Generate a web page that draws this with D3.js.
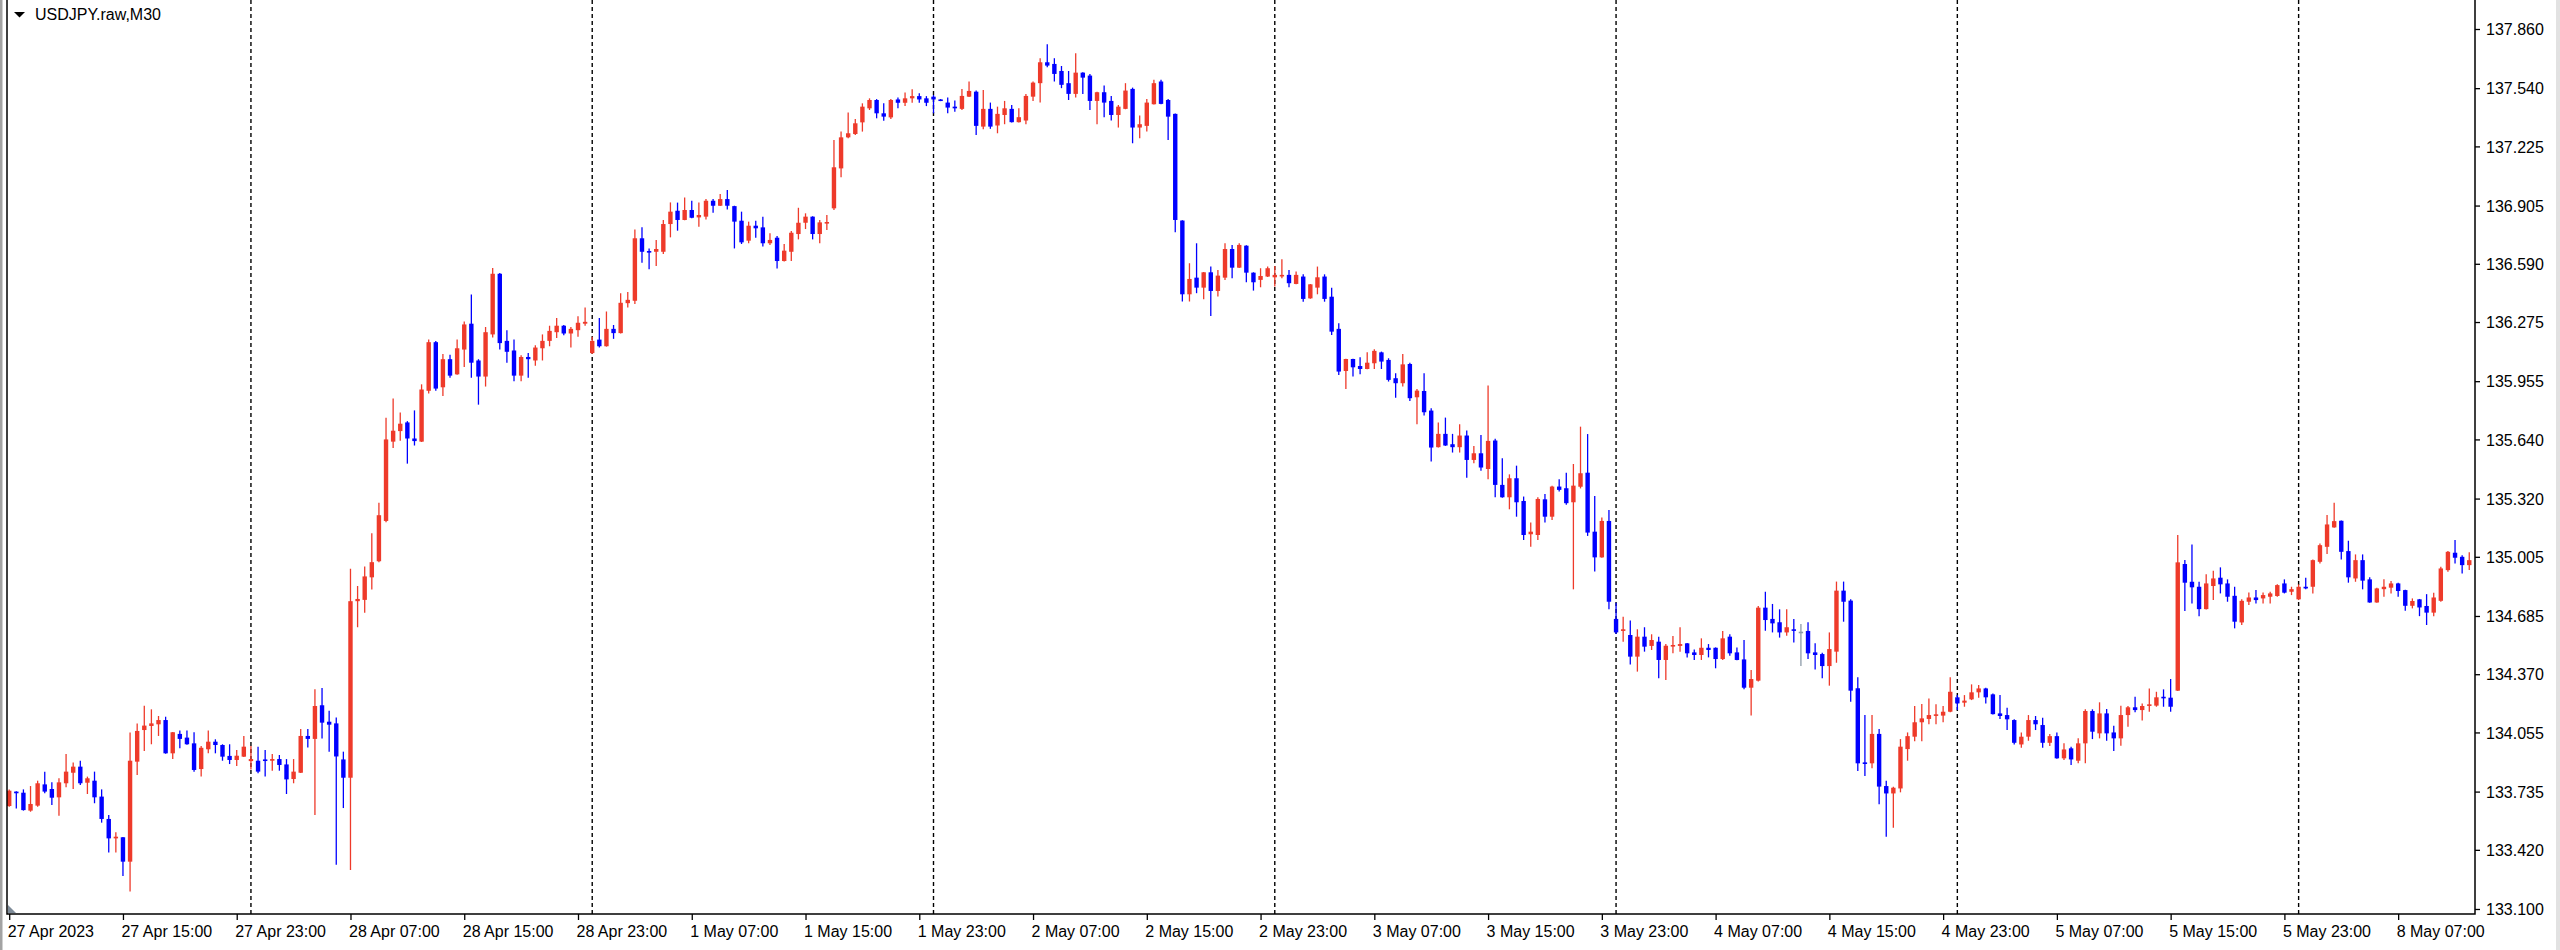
<!DOCTYPE html>
<html>
<head>
<meta charset="utf-8">
<script src="https://cdn.jsdelivr.net/npm/d3@7"></script>
<style>
  html, body { margin: 0; padding: 0; background: #fff; }
  svg { display: block; }
  text { font-family: "Liberation Sans", Arial, sans-serif; }
</style>
</head>
<body>
<svg id="chart" width="2560" height="950"></svg>
<script>
// USDJPY.raw M30 candles, 27 Apr 2023 07:00 -> 8 May 2023 12:00 (one entry per bar)
const openPrices = [
  133.657,133.735,133.729,133.632,133.659,133.774,133.749,133.704,133.780,133.837,
  133.870,133.783,133.794,133.708,133.587,133.482,133.488,133.356,133.897,134.068,
  134.090,134.099,134.122,133.942,134.047,134.027,133.996,133.857,133.964,134.005,
  133.987,133.928,133.906,133.924,133.900,133.902,133.909,133.902,133.911,133.882,
  133.803,133.837,134.036,134.020,134.202,134.113,134.104,133.909,133.810,134.765,
  134.772,134.894,134.981,135.199,135.628,135.685,135.732,135.645,135.628,135.903,
  136.166,135.922,136.074,135.992,136.126,136.266,136.067,135.980,136.208,136.536,
  136.173,136.121,135.985,136.086,136.067,136.133,136.173,136.220,136.255,136.213,
  136.231,136.266,136.107,136.180,136.144,136.238,136.215,136.377,136.390,136.728,
  136.659,136.655,136.655,136.805,136.877,136.827,136.881,136.841,136.845,136.931,
  136.904,136.940,136.902,136.823,136.715,136.796,136.787,136.701,136.731,136.605,
  136.655,136.751,136.812,136.845,136.751,136.812,136.890,137.106,137.274,137.292,
  137.355,137.431,137.476,137.404,137.382,137.479,137.461,137.485,137.497,137.485,
  137.494,137.479,137.462,137.440,137.428,137.494,137.521,137.332,137.428,137.338,
  137.395,137.428,137.356,137.365,137.494,137.567,137.680,137.671,137.633,137.567,
  137.509,137.624,137.608,137.471,137.518,137.471,137.395,137.428,137.536,137.327,
  137.336,137.453,137.576,137.476,137.401,136.824,136.425,136.515,136.461,136.544,
  136.443,136.515,136.670,136.569,136.688,136.542,136.503,136.521,136.517,136.524,
  136.530,136.481,136.521,136.403,136.461,136.521,136.412,136.238,136.010,136.075,
  136.037,136.021,136.052,136.111,136.070,135.971,135.944,136.048,135.868,135.902,
  135.796,135.598,135.670,135.614,135.598,135.661,135.529,135.565,135.480,135.634,
  135.394,135.327,135.430,135.307,135.127,135.123,135.316,135.222,135.385,135.376,
  135.300,135.384,135.460,135.141,135.002,135.199,134.669,134.604,134.582,134.465,
  134.573,134.523,134.546,134.447,134.523,134.523,134.537,134.488,134.474,134.513,
  134.513,134.452,134.573,134.488,134.450,134.297,134.335,134.730,134.669,134.651,
  134.596,134.613,134.600,134.604,134.488,134.479,134.414,134.492,134.822,134.768,
  134.294,133.893,133.888,134.047,133.765,133.725,133.752,133.965,134.032,134.110,
  134.128,134.146,134.146,134.167,134.245,134.216,134.234,134.272,134.293,134.261,
  134.158,134.149,134.122,133.990,134.032,134.122,134.095,133.999,134.035,133.915,
  133.969,133.902,133.996,134.171,134.050,134.158,134.055,134.023,134.149,134.191,
  134.176,134.203,134.200,134.248,134.243,134.281,134.966,134.870,134.843,134.722,
  134.847,134.892,134.861,134.794,134.650,134.762,134.785,134.780,134.789,134.793,
  134.861,134.816,134.775,134.843,134.843,134.978,135.059,135.164,135.200,135.036,
  134.888,134.987,134.883,134.758,134.830,134.838,134.861,134.825,134.740,134.775,
  134.739,134.703,134.767,134.933,135.027,135.005,134.960
];
const highPrices = [
  133.747,133.737,133.747,133.765,133.794,133.843,133.785,133.807,133.938,133.893,
  133.902,133.816,133.843,133.747,133.608,133.515,133.490,134.054,134.104,134.200,
  134.180,134.144,134.140,134.058,134.065,134.065,134.056,133.982,134.065,134.018,
  133.991,133.991,133.960,134.036,133.982,133.978,133.960,133.938,133.933,133.911,
  133.911,134.074,134.074,134.288,134.296,134.172,134.136,133.951,134.941,134.847,
  134.953,135.133,135.298,135.757,135.861,135.786,135.739,135.797,135.938,136.180,
  136.173,136.102,136.098,136.180,136.278,136.424,136.074,136.248,136.567,136.540,
  136.231,136.180,136.095,136.107,136.149,136.208,136.255,136.297,136.259,136.248,
  136.306,136.353,136.196,136.297,136.332,136.259,136.431,136.438,136.776,136.787,
  136.673,136.719,136.827,136.922,136.921,136.949,136.931,136.922,136.940,136.940,
  136.967,136.989,136.904,136.872,136.818,136.823,136.845,136.755,136.740,136.697,
  136.767,136.893,136.863,136.847,136.827,136.854,137.259,137.305,137.409,137.373,
  137.458,137.485,137.481,137.458,137.481,137.490,137.516,137.534,137.512,137.497,
  137.503,137.481,137.489,137.473,137.536,137.576,137.527,137.530,137.462,137.440,
  137.471,137.449,137.431,137.509,137.576,137.702,137.778,137.702,137.660,137.633,
  137.729,137.626,137.617,137.520,137.554,137.498,137.449,137.567,137.543,137.392,
  137.482,137.585,137.585,137.482,137.403,136.826,136.593,136.701,136.546,136.575,
  136.557,136.701,136.692,136.701,136.690,136.544,136.566,136.575,136.578,136.614,
  136.557,136.548,136.533,136.481,136.575,136.533,136.461,136.268,136.077,136.077,
  136.084,136.111,136.128,136.115,136.079,135.998,136.102,136.055,135.913,135.998,
  135.808,135.731,135.758,135.670,135.722,135.688,135.605,135.664,135.931,135.643,
  135.538,135.451,135.498,135.331,135.190,135.327,135.345,135.390,135.424,135.460,
  135.507,135.709,135.669,135.334,135.217,135.258,134.757,134.681,134.660,134.613,
  134.624,134.586,134.573,134.533,134.577,134.624,134.539,134.504,134.564,134.533,
  134.515,134.604,134.586,134.515,134.555,134.393,134.739,134.816,134.750,134.721,
  134.721,134.669,134.642,134.651,134.537,134.486,134.596,134.871,134.871,134.775,
  134.353,134.149,134.149,134.074,133.794,133.761,134.019,134.055,134.198,134.209,
  134.239,134.207,134.198,134.353,134.257,134.257,134.315,134.311,134.297,134.266,
  134.257,134.189,134.126,134.055,134.149,134.144,134.135,134.046,134.055,133.996,
  133.978,134.023,134.180,134.180,134.218,134.182,134.091,134.200,134.198,134.248,
  134.212,134.293,134.275,134.288,134.344,135.123,134.988,135.072,134.870,134.910,
  134.930,134.948,134.883,134.843,134.776,134.812,134.825,134.812,134.816,134.856,
  134.883,134.843,134.856,134.892,134.991,135.077,135.231,135.297,135.202,135.092,
  135.018,135.018,134.894,134.838,134.883,134.874,134.865,134.827,134.780,134.777,
  134.803,134.811,134.951,135.036,135.096,135.014,135.029
];
const lowPrices = [
  133.653,133.644,133.632,133.626,133.653,133.726,133.663,133.605,133.758,133.749,
  133.771,133.722,133.672,133.567,133.405,133.405,133.278,133.194,133.825,133.955,
  133.991,134.036,133.940,133.911,133.969,133.989,133.843,133.816,133.942,133.942,
  133.902,133.884,133.873,133.922,133.855,133.834,133.816,133.848,133.848,133.722,
  133.780,133.835,133.974,133.608,134.022,133.951,133.339,133.646,133.311,134.624,
  134.702,134.828,134.976,135.192,135.593,135.633,135.509,135.607,135.626,135.889,
  135.903,135.875,135.973,135.990,136.032,135.973,135.828,135.926,136.191,136.126,
  136.055,135.954,135.954,135.973,136.039,136.067,136.144,136.189,136.203,136.137,
  136.196,136.255,136.102,136.137,136.142,136.184,136.213,136.353,136.372,136.596,
  136.560,136.578,136.643,136.733,136.769,136.825,136.836,136.791,136.830,136.866,
  136.902,136.884,136.673,136.697,136.701,136.731,136.683,136.692,136.565,136.603,
  136.605,136.722,136.778,136.722,136.701,136.773,136.881,137.058,137.269,137.287,
  137.305,137.422,137.377,137.364,137.373,137.431,137.443,137.461,137.461,137.443,
  137.404,137.470,137.404,137.413,137.422,137.492,137.287,137.318,137.320,137.296,
  137.345,137.354,137.354,137.345,137.471,137.462,137.653,137.576,137.540,137.476,
  137.489,137.509,137.422,137.345,137.383,137.365,137.327,137.426,137.242,137.269,
  137.305,137.451,137.453,137.260,136.761,136.386,136.386,136.431,136.398,136.308,
  136.413,136.503,136.512,136.567,136.490,136.445,136.463,136.519,136.467,136.512,
  136.463,136.479,136.385,136.401,136.425,136.385,136.205,135.989,135.913,135.980,
  135.992,136.019,136.021,136.021,135.953,135.866,135.926,135.848,135.722,135.769,
  135.520,135.596,135.605,135.569,135.569,135.433,135.511,135.471,135.424,135.327,
  135.325,135.262,135.222,135.096,135.060,135.096,135.190,135.204,135.358,135.286,
  134.829,135.375,135.118,134.925,135.000,134.721,134.587,134.546,134.423,134.384,
  134.492,134.501,134.348,134.339,134.483,134.492,134.461,134.447,134.447,134.461,
  134.402,134.447,134.470,134.445,134.288,134.146,134.330,134.605,134.596,134.568,
  134.578,134.541,134.414,134.452,134.396,134.348,134.308,134.432,134.654,134.221,
  133.846,133.819,133.861,133.666,133.491,133.540,133.731,133.902,134.008,134.008,
  134.099,134.099,134.110,134.164,134.176,134.194,134.230,134.243,134.212,134.152,
  134.128,134.068,133.990,133.972,134.010,134.068,133.972,133.981,133.913,133.906,
  133.879,133.888,133.888,134.019,134.023,134.010,133.954,133.983,134.086,134.164,
  134.119,134.167,134.194,134.194,134.167,134.279,134.712,134.753,134.684,134.720,
  134.771,134.807,134.762,134.618,134.636,134.744,134.753,134.753,134.753,134.789,
  134.807,134.798,134.771,134.829,134.807,134.969,135.020,135.162,134.991,134.865,
  134.870,134.829,134.756,134.756,134.789,134.807,134.789,134.713,134.726,134.684,
  134.636,134.684,134.762,134.924,134.969,134.915,134.933
];
const closePrices = [
  133.740,133.726,133.635,133.668,133.780,133.735,133.702,133.785,133.843,133.870,
  133.780,133.807,133.704,133.587,133.482,133.491,133.356,133.902,134.063,134.092,
  134.104,134.122,133.942,134.056,134.020,133.991,133.852,133.972,134.005,133.987,
  133.924,133.906,133.929,133.978,133.911,133.843,133.902,133.911,133.879,133.801,
  133.843,134.036,134.020,134.198,134.108,134.097,133.925,133.810,134.765,134.777,
  134.899,134.976,135.230,135.640,135.687,135.725,135.645,135.631,135.910,136.166,
  135.915,136.074,135.985,136.133,136.262,136.055,135.980,136.220,136.536,136.161,
  136.114,135.985,136.086,136.074,136.137,136.173,136.227,136.255,136.213,136.238,
  136.271,136.276,136.173,136.144,136.238,136.215,136.379,136.395,136.728,136.655,
  136.652,136.670,136.805,136.872,136.827,136.881,136.839,136.854,136.931,136.904,
  136.940,136.904,136.818,136.706,136.796,136.782,136.701,136.719,136.605,136.661,
  136.758,136.812,136.845,136.751,136.814,136.816,137.112,137.274,137.296,137.350,
  137.440,137.476,137.404,137.386,137.476,137.461,137.485,137.497,137.479,137.461,
  137.479,137.472,137.435,137.431,137.498,137.525,137.336,137.428,137.332,137.401,
  137.431,137.356,137.383,137.498,137.570,137.680,137.662,137.617,137.558,137.509,
  137.624,137.597,137.471,137.518,137.462,137.395,137.440,137.527,137.327,137.345,
  137.462,137.567,137.455,137.386,136.827,136.425,136.508,136.461,136.544,136.443,
  136.526,136.670,136.569,136.692,136.542,136.490,136.524,136.566,136.530,136.530,
  136.485,136.530,136.400,136.479,136.517,136.400,136.223,136.007,136.075,136.030,
  136.021,136.055,136.119,136.061,135.962,135.944,136.046,135.863,135.904,135.787,
  135.596,135.670,135.607,135.598,135.661,135.529,135.565,135.488,135.632,135.394,
  135.327,135.430,135.300,135.123,135.141,135.318,135.222,135.385,135.367,135.295,
  135.390,135.457,135.136,135.002,135.199,134.762,134.596,134.613,134.465,134.573,
  134.519,134.555,134.447,134.524,134.528,134.533,134.483,134.474,134.513,134.501,
  134.452,134.564,134.483,134.447,134.297,134.344,134.730,134.663,134.645,134.596,
  134.624,134.605,134.600,134.483,134.474,134.414,134.506,134.822,134.762,134.281,
  133.888,133.888,134.047,133.762,133.725,133.756,133.978,134.035,134.110,134.131,
  134.149,134.153,134.167,134.275,134.212,134.227,134.272,134.293,134.245,134.154,
  134.144,134.126,133.999,134.032,134.122,134.099,133.999,134.035,133.915,133.963,
  133.909,133.996,134.171,134.059,134.158,134.050,134.023,134.149,134.191,134.176,
  134.198,134.207,134.245,134.243,134.194,134.975,134.865,134.840,134.722,134.861,
  134.888,134.856,134.789,134.654,134.767,134.785,134.771,134.798,134.807,134.852,
  134.811,134.830,134.843,134.834,134.987,135.068,135.180,135.198,135.032,134.894,
  134.987,134.876,134.758,134.834,134.843,134.861,134.820,134.740,134.766,134.731,
  134.703,134.785,134.942,135.032,135.000,134.960,134.987
];

// time labels, one every 16 bars (8 hours)
const timeLabels = [
  "27 Apr 2023", "27 Apr 15:00", "27 Apr 23:00", "28 Apr 07:00", "28 Apr 15:00",
  "28 Apr 23:00", "1 May 07:00", "1 May 15:00", "1 May 23:00", "2 May 07:00",
  "2 May 15:00", "2 May 23:00", "3 May 07:00", "3 May 15:00", "3 May 23:00",
  "4 May 07:00", "4 May 15:00", "4 May 23:00", "5 May 07:00", "5 May 15:00",
  "5 May 23:00", "8 May 07:00"
];
const barsPerLabel = 16;
// bar index of each 00:00 bar (day separators)
const daySeparators = [34, 82, 130, 178, 226, 274, 322];
const priceTicks = [
  137.860, 137.540, 137.225, 136.905, 136.590, 136.275, 135.955, 135.640,
  135.320, 135.005, 134.685, 134.370, 134.055, 133.735, 133.420, 133.100
];

const svg = d3.select("#chart");
const W = 2560, H = 950;
const plot = { left: 7, right: 2475, top: 0, bottom: 914 };
const bullColor = "#ee3a2a", bearColor = "#0000ff", dojiColor = "#8c9aa8";

const n = closePrices.length;
const x = d3.scaleLinear().domain([0, n - 1]).range([9.2, 9.2 + (n - 1) * 7.11]);
const y = d3.scaleLinear().domain([133.0729, 138.0169]).range([plot.bottom, plot.top]);

svg.append("rect").attr("width", W).attr("height", H).attr("fill", "#fff");

// window borders
svg.append("rect").attr("x", 0).attr("y", 0).attr("width", 2.5).attr("height", H).attr("fill", "#a3a3a3");
svg.append("rect").attr("x", 2556).attr("y", 0).attr("width", 4).attr("height", H).attr("fill", "#e2e2e2");

// day separators
svg.append("g")
  .selectAll("line")
  .data(daySeparators)
  .join("line")
  .attr("x1", d => x(d)).attr("x2", d => x(d))
  .attr("y1", plot.top).attr("y2", plot.bottom)
  .attr("stroke", "#000")
  .attr("stroke-width", 1.4)
  .attr("stroke-dasharray", "4,3");

// candles
const bars = d3.range(n);
const colorOf = i => closePrices[i] > openPrices[i] ? bullColor : (closePrices[i] < openPrices[i] ? bearColor : dojiColor);
const bodyW = 4.4;

const candles = svg.append("g");
candles.selectAll("line")
  .data(bars)
  .join("line")
  .attr("x1", i => x(i)).attr("x2", i => x(i))
  .attr("y1", i => y(highPrices[i]))
  .attr("y2", i => y(lowPrices[i]))
  .attr("stroke", colorOf)
  .attr("stroke-width", 1.3);

candles.selectAll("rect")
  .data(bars)
  .join("rect")
  .attr("x", i => x(i) - bodyW / 2)
  .attr("width", bodyW)
  .attr("y", i => Math.min(y(openPrices[i]), y(closePrices[i])))
  .attr("height", i => Math.max(1.6, Math.abs(y(openPrices[i]) - y(closePrices[i]))))
  .attr("fill", colorOf);

// frame
svg.append("path")
  .attr("d", `M${plot.left},${plot.top}V${plot.bottom}H${plot.right}V${plot.top}`)
  .attr("fill", "none")
  .attr("stroke", "#000")
  .attr("stroke-width", 1.5);

// small scroll marker at bottom-left
svg.append("path")
  .attr("d", `M${plot.left + 1},${plot.bottom - 9}L${plot.left + 1},${plot.bottom - 1}L${plot.left + 9},${plot.bottom - 1}Z`)
  .attr("fill", "#7f8c99");

// price axis
const yAxis = svg.append("g")
  .attr("transform", `translate(${plot.right},0)`)
  .call(d3.axisRight(y).tickValues(priceTicks).tickSize(5).tickSizeOuter(0).tickPadding(6).tickFormat(d3.format(".3f")));
yAxis.select(".domain").remove();
yAxis.selectAll("line").attr("stroke", "#000").attr("stroke-width", 1.3);
yAxis.selectAll("text").attr("fill", "#000").style("font-size", "16px").attr("dy", "0.35em");

// time axis
const xAxis = svg.append("g")
  .attr("transform", `translate(0,${plot.bottom})`)
  .call(d3.axisBottom(x)
    .tickValues(timeLabels.map((_, i) => i * barsPerLabel))
    .tickSize(6).tickSizeOuter(0).tickPadding(5.5)
    .tickFormat(d => timeLabels[d / barsPerLabel]));
xAxis.select(".domain").remove();
xAxis.selectAll("line").attr("stroke", "#000").attr("stroke-width", 1.3);
xAxis.selectAll("text")
  .attr("fill", "#000")
  .attr("text-anchor", "start")
  .attr("dx", -2)
  .style("font-size", "16px");

// title
svg.append("path").attr("d", "M14,12H25L19.5,17.5Z").attr("fill", "#000");
svg.append("text")
  .attr("x", 35).attr("y", 19.6)
  .style("font-size", "16px")
  .attr("fill", "#000")
  .text("USDJPY.raw,M30");
</script>
</body>
</html>
